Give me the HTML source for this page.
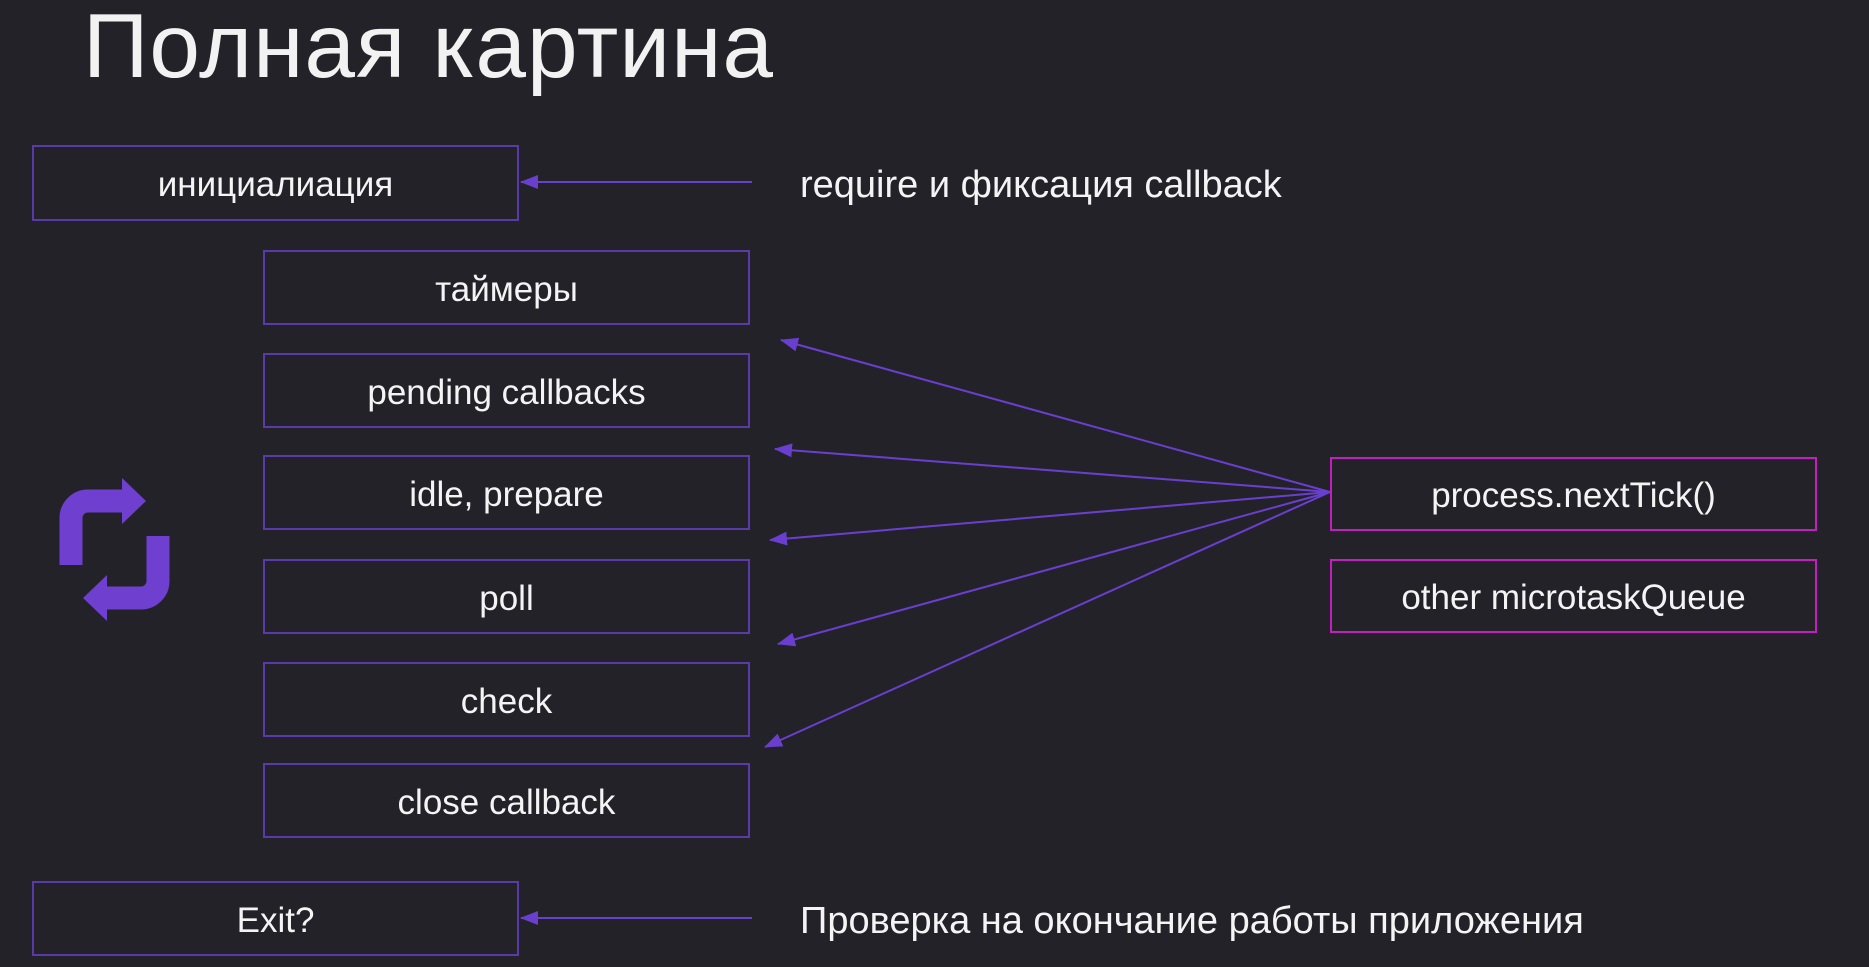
<!DOCTYPE html>
<html><head><meta charset="utf-8"><style>
html,body{margin:0;padding:0;background:#232228;}
body{width:1869px;height:967px;position:relative;overflow:hidden;font-family:"Liberation Sans","DejaVu Sans",sans-serif;color:#fff;}
.t{position:absolute;left:83px;top:-5px;font-size:91px;font-weight:300;color:#f2f2f2;letter-spacing:1px;}
.b{position:absolute;box-sizing:border-box;border:2px solid #5a3aa8;display:flex;align-items:center;justify-content:center;font-size:35px;color:#f4f4f4;padding-top:4px;}
.m{border-color:#c21fc0;}
.l{position:absolute;left:800px;font-size:38px;color:#f4f4f4;}
</style></head><body>
<div class="t">Полная картина</div>
<div class="b" style="left:32px;top:145px;width:487px;height:76px">инициалиация</div>
<div class="b" style="left:263px;top:250px;width:487px;height:75px">таймеры</div>
<div class="b" style="left:263px;top:353px;width:487px;height:75px">pending callbacks</div>
<div class="b" style="left:263px;top:455px;width:487px;height:75px">idle, prepare</div>
<div class="b" style="left:263px;top:559px;width:487px;height:75px">poll</div>
<div class="b" style="left:263px;top:662px;width:487px;height:75px">check</div>
<div class="b" style="left:263px;top:763px;width:487px;height:75px">close callback</div>
<div class="b" style="left:32px;top:881px;width:487px;height:75px">Exit?</div>
<div class="b m" style="left:1330px;top:457px;width:487px;height:74px">process.nextTick()</div>
<div class="b m" style="left:1330px;top:559px;width:487px;height:74px">other microtaskQueue</div>
<div class="l" style="top:164px">require и фиксация callback</div>
<div class="l" style="top:900px">Проверка на окончание работы приложения</div>
<svg width="1869" height="967" style="position:absolute;left:0;top:0">
<defs>
<marker id="a2" markerWidth="18" markerHeight="14" refX="17" refY="7" orient="auto" markerUnits="userSpaceOnUse"><path d="M0,0 L18,7 L0,14 z" fill="#6a3fd0"/></marker></defs>
<g stroke="#6a3fd0" stroke-width="2" fill="none">
<line x1="752" y1="182" x2="521" y2="182" marker-end="url(#a2)"/>
<line x1="752" y1="918" x2="521" y2="918" marker-end="url(#a2)"/>
<line x1="1330" y1="492" x2="781" y2="340" marker-end="url(#a2)"/>
<line x1="1330" y1="492" x2="775" y2="449" marker-end="url(#a2)"/>
<line x1="1330" y1="492" x2="770" y2="540" marker-end="url(#a2)"/>
<line x1="1330" y1="492" x2="778" y2="644" marker-end="url(#a2)"/>
<line x1="1330" y1="492" x2="765" y2="747" marker-end="url(#a2)"/>
</g>
<g fill="none" stroke="#6f3fd0" stroke-width="23">
<path d="M71 565 V518 A17 17 0 0 1 88 501 H126"/>
<path d="M158 536 V581 A17 17 0 0 1 141 598 H104"/>
</g>
<g fill="#6f3fd0">
<polygon points="122,478 146,501 122,524"/>
<polygon points="107,575 83,598 107,621"/>
</g>
</svg>
</body></html>
